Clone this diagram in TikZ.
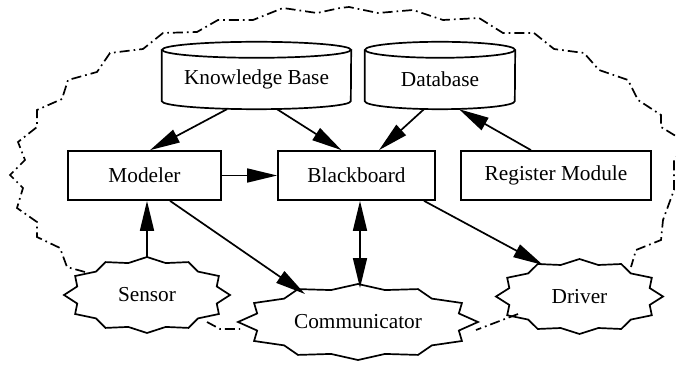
\documentclass[tikz,border=0pt]{standalone}
\usepackage{fontspec}
\setmainfont{Liberation Serif}
\usetikzlibrary{shapes.geometric,arrows.meta,calc}
\newcommand\mycyl[2]{%
  \draw[lw] ($(#1.north west)+(0,-8)$) -- ($(#1.south west)+(0,8)$)
     arc[start angle=180,end angle=360,x radius=#2,y radius=8]
     -- ($(#1.north east)+(0,-8)$);
  \draw[lw] (#1.north) ++(0,-8) ellipse [x radius=#2, y radius=8];}
\newcommand\myjag[3]{%
  \draw[lw, line join=miter, shift={(#1.center)}]
    plot[variable=\k, samples at={0,...,23}]
      ({#2*(1-0.13*mod(\k,2))*cos(\k*15)},{#3*(1-0.13*mod(\k,2))*sin(\k*15)}) -- cycle;}
\begin{document}
\begin{tikzpicture}[x=1pt,y=1pt,
  every node/.style={font=\fontsize{21.3}{25}\selectfont},
  lw/.style={line width=1.7pt},
  boxnode/.style={draw, lw, minimum width=#1, minimum height=49, inner sep=0},
  cylnode/.style={draw=none, minimum width=#1, minimum height=67, inner sep=0},
  jagnode/.style n args={2}{ellipse, draw=none, minimum width=#1, minimum height=#2, inner sep=0},
  arr/.style={lw, -{Triangle[length=30pt,width=14pt]}},
  arrboth/.style={lw, {Triangle[length=30pt,width=14pt]}-{Triangle[length=30pt,width=14pt]}},
  bound/.style={lw, dash pattern=on 10pt off 4pt on 1.7pt off 4pt}
]
\useasboundingbox (0,0) rectangle (676,364);

% cylinders
\node[cylnode=189] (kb) at (256.5,288.5) {};
\mycyl{kb}{94.5}
\node (kbt) at (256.5,285) {Knowledge Base};
\node[cylnode=150] (db) at (440,288.5) {};
\mycyl{db}{75}
\node (dbt) at (440,285) {Database};

% boxes
\node[boxnode=153] (mod) at (144.5,188.5) {Modeler};
\node[boxnode=157] (bb) at (356.5,188.5) {Blackboard};
\node[boxnode=190] (reg) at (556,188.5) {Register Module};

% jagged nodes
\node[jagnode={166}{76}] (sen) at (147,69) {Sensor};
\myjag{sen}{83}{38}
\node[jagnode={240}{76}] (comm) at (358,42) {Communicator};
\myjag{comm}{120}{38}
\node[jagnode={167}{75}] (drv) at (579.5,67.5) {Driver};
\myjag{drv}{83.5}{37.5}

% connectors
\draw[arr] ([xshift=-29.5]kb.south) -- ([xshift=5.5]mod.north);
\draw[arr] ([xshift=20.5]kb.south) -- ([xshift=-15]bb.north);
\draw[arr] ([xshift=-16]db.south) -- ([xshift=22.5]bb.north);
\draw[arr] ([xshift=-25]reg.north) -- ([xshift=19]db.south);
\draw[arr] (mod.east) -- (bb.west);
\draw[arr] (sen.north) -- ([xshift=2.5]mod.south);
\draw[arr] ([xshift=25.5]mod.south) -- ([shift={(-53,28)}]comm.center);
\draw[arrboth] ([xshift=3.5]bb.south) -- ([shift={(2,34)}]comm.center);
\draw[arr] ([xshift=67.5]bb.south) -- ([shift={(-36.5,31.5)}]drv.center);

% cluster boundary
\draw[bound] (85,92) -- (67,97) -- (60,116) -- (37,127) -- (37,142) -- (17,156)
  -- (23,176) -- (10,189) -- (25,204) -- (18,222) -- (37,237) -- (37,254)
  -- (62,265) -- (68,284) -- (97,292) -- (110,311) -- (143,315) -- (163,331)
  -- (197,332) -- (218,344) -- (253,344) -- (283,356) -- (317,351) -- (340,356)
  -- (349,357) -- (378,351) -- (413,354) -- (443,344) -- (479,346) -- (503,331)
  -- (534,331) -- (554,315) -- (584,311) -- (599,294) -- (628,284) -- (638,264)
  -- (661,249) -- (661,237) -- (679,226) -- (680,211) -- (674,204) -- (674,174)
  -- (663,144) -- (661,124) -- (636,114) -- (631,97);
\draw[bound] (518,50) -- (476,34);
\draw[bound] (207,42) -- (220,35) -- (240,35);
\end{tikzpicture}
\end{document}
